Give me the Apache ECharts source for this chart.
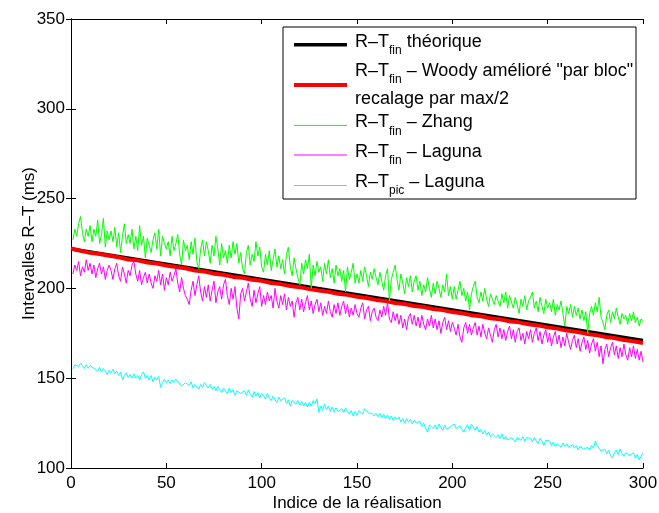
<!DOCTYPE html>
<html><head><meta charset="utf-8">
<script src="https://cdn.jsdelivr.net/npm/echarts@6/dist/echarts.min.js"></script>
<style>html,body{margin:0;padding:0;background:#fff}#c{width:659px;height:513px}</style>
</head><body><div id="c"></div>
<script>
// ---- data ----
const theoX = [1, 300];
const theoY = [221.8, 171];

const woodyX = [0,5,10,15,20,25,30,35,40,45,50,55,60,65,70,75,80,85,90,95,100,105,110,115,120,125,130,135,140,145,150,155,160,165,170,175,180,185,190,195,200,205,210,215,220,225,230,235,240,245,250,255,260,265,270,275,280,285,290,295,300];
const woodyY = [222.3,221.0,219.8,219.2,218.2,217.3,216.1,215.6,214.4,213.9,212.7,211.9,211.2,209.9,209.4,208.2,207.6,206.4,205.9,204.8,204.2,203.0,202.4,201.3,200.7,199.6,198.8,198.1,197.0,196.4,195.3,194.7,193.6,193.0,191.9,191.3,190.2,189.6,188.5,187.9,186.8,186.2,185.1,184.5,183.4,182.8,181.7,181.1,180.0,179.4,178.3,177.6,176.5,175.9,174.8,174.1,173.0,172.4,171.3,170.6,169.6];

const zhangY = [
227,233,229,236,240,231,226,233,229,235,
226,233,229,238,225,230,239,223,232,227,
232,226,234,223,231,220,229,236,225,230,
225,233,222,229,221,235,224,229,217,228,
228,220,227,231,222,233,218,229,225,222,
226,218,229,221,225,230,219,213,227,221,
224,216,226,219,228,215,211,222,227,218,
226,221,214,224,218,229,222,213,225,217,
221,214,224,217,226,219,225,214,220,211,
208,220,224,213,219,215,226,218,223,212,
209,219,213,221,210,216,222,212,218,211,
216,208,219,223,212,207,217,211,206,202,
214,208,216,211,219,200,213,207,215,209,
212,204,214,208,216,206,211,203,213,207,
211,204,210,198,212,205,209,214,203,208,
203,210,204,212,207,201,209,205,211,206,
202,209,204,199,207,211,193,205,209,213,
205,199,208,203,197,206,201,207,198,204,
207,199,204,196,202,198,206,200,195,203,
197,204,200,195,202,198,208,196,201,194,
201,194,199,204,196,200,193,198,188,197,
201,204,195,192,198,193,200,194,190,197,
198,191,196,193,190,197,192,198,189,196,
197,189,195,191,186,194,190,196,188,193,
195,198,189,193,187,195,190,186,194,189,
192,187,194,185,191,188,193,186,179,190,
186,191,184,190,185,189,183,188,182,187,
175,186,190,185,192,187,195,184,181,177,
185,188,181,187,183,189,184,180,186,183,
185,180,186,182,187,181,184,179,183,182];

const lagunaFinY = [
208,213,210,215,207,212,209,216,210,214,
208,213,206,211,214,208,212,205,210,213,
210,205,211,214,207,204,212,208,203,210,
207,213,215,208,204,210,202,206,209,203,
208,203,200,207,204,210,202,208,199,206,
202,209,204,207,211,203,198,206,200,196,
194,191,199,204,196,202,207,198,193,201,
195,202,193,199,204,192,198,201,194,202,
205,196,191,200,194,201,189,183,197,200,
193,198,203,194,190,199,192,197,201,190,
196,191,198,193,196,189,200,193,189,196,
191,197,188,195,190,193,184,192,195,188,
194,187,192,196,188,193,186,191,194,187,
192,185,190,186,193,187,184,191,186,192,
185,190,193,186,191,184,189,185,191,186,
184,189,192,183,188,190,182,187,189,184,
182,188,184,190,185,192,183,181,187,182,
186,180,185,178,183,177,184,186,180,185,
179,184,178,185,180,177,183,179,185,178,
183,177,182,175,181,184,177,182,176,181,
178,174,180,173,170,178,181,175,180,174,
178,181,174,179,173,180,175,172,178,174,
170,177,180,173,178,172,177,171,176,179,
172,177,170,176,178,171,175,169,176,172,
177,170,175,178,171,176,169,174,177,170,
175,168,173,176,169,174,167,173,168,175,
170,166,171,174,167,172,165,170,173,166,
171,164,169,172,165,170,162,168,158,166,
169,162,167,170,163,168,161,167,162,169,
163,160,167,162,168,161,166,160,165,159];

const lagunaPicY = [
155,157.5,158.5,156.5,158.5,157,155.5,157.5,155.5,157,
158,155.5,156.5,154,156,153.5,155.5,154,152,154.5,
153,155,152.5,154,151.5,153.5,149,151.5,153,150.5,
152,150,152.5,150,151.5,149,152,153.5,150,151.5,
149,151.5,148,150.5,149,151,145,147.5,149.5,147.5,
149,147,149,147.5,149.5,148,147,145.5,144.5,147.5,
148.5,146,148,144.5,146.5,147.5,144,146.5,145,147.5,
148,144.5,146.5,144,145.5,143,145.5,143.5,142,144.5,
143.5,141.5,144.5,142,143.5,140.5,143,144,141.5,140.5,
143,140.5,143.5,141,139.5,142.5,140,142,139,141.5,
140,138.5,141.5,139,137.5,140,138,136.5,139.5,137.5,
138,139,136,138,134.5,137.5,138.5,135.5,137.5,135,
137,134.5,136.5,134,136.5,134.5,137.5,136,138.5,131,
134.5,132,135.5,132.5,134.5,131.5,134,131,133.5,131.5,
131,133,131,133.5,131.5,130,132,129,131.5,129.5,
132,131.5,130,133,133.5,130.5,131,130.5,129,130.5,
128.5,130.5,128,130,127.5,129.5,127,129,126.5,128.5,
127,128.5,125.5,127.5,125,127.5,125.5,127,124.5,126.5,
125,124,126,123,125,122,120,124,124.5,122,
124,121.5,124.5,122.5,121,124,121.5,120.5,123,123.5,
124.5,122,121,123.5,121.5,120,122.5,124,121,124.5,
123,121,123,120,121.5,119,121,118.5,120,117.5,
119,118.5,117,118.5,116.5,119,116,117.5,115.5,115,
117,116.5,114.5,117,118,115.5,117.5,115,117,116.5,
116.5,114.5,117,115,113.5,116.5,115,112.5,115.5,115,
115,112.5,114.5,112,113.5,114.5,111.5,114,112,113.5,
111.5,110.5,113,111,112.5,110,112,112.5,110.5,109.5,
111.5,110,112.5,111,115,112.5,111.5,109.5,109,110.5,
108,110,107,105.5,108.5,110,107.5,110.5,108,106.5,
108.5,109.5,107,106,108.5,105.5,107.5,104.5,105.5,108.5];

const xTitle = 'Indice de la réalisation';
const yTitle = 'Intervalles R\u2013T (ms)';
const legendRows = [
  '{m|R\u2013T}{s|fin}{m| théorique}',
  '{m|R\u2013T}{s|fin}{m| \u2013 Woody amélioré "par bloc"}',
  '{m|recalage par max/2}',
  '{m|R\u2013T}{s|fin}{m| \u2013 Zhang}',
  '{m|R\u2013T}{s|fin}{m| \u2013 Laguna}',
  '{m|R\u2013T}{s|pic}{m| \u2013 Laguna}'
];
const colors = ['#000000', '#ff0000', '#00ff00', '#ff00ff', '#00ffff'];

// ---- chart ----
const FONT = '"Liberation Sans", Arial, Helvetica, sans-serif';
const chart = echarts.init(document.getElementById('c'), null, {renderer: 'canvas'});

const idx = arr => arr.map((v, i) => [i + 1, v]);
const baseAxis = {
  axisLine: {show: true, lineStyle: {color: '#000', width: 1}},
  axisTick: {show: true, inside: true, length: 5, lineStyle: {color: '#000'}},
  splitLine: {show: false}
};

const legendLineY = [44.7, 85, 125.4, 155, 185.5];
const legendTextY = [42, 70.7, 98.8, 122.4, 152.1, 181.8];
const lineWidths = [3.5, 4, 1, 1, 1];

const graphics = [
  {type: 'rect', shape: {x: 283, y: 27, width: 353, height: 172},
   style: {fill: '#fff', stroke: '#000', lineWidth: 1}, z: 100}
];
legendLineY.forEach((y, i) => graphics.push({
  type: 'line', shape: {x1: 294, y1: y, x2: 347, y2: y},
  style: {stroke: colors[i], lineWidth: lineWidths[i]}, z: 101
}));
legendRows.forEach((t, i) => graphics.push({
  type: 'text', x: 355, y: legendTextY[i], z: 101,
  style: {
    text: t, verticalAlign: 'middle', align: 'left',
    rich: {
      m: {fontSize: 18, fontFamily: FONT, fill: '#000'},
      s: {fontSize: 12, fontFamily: FONT, fill: '#000', padding: [18, 0, 0, 0]}
    }
  }
}));

chart.setOption({
  animation: false,
  backgroundColor: '#fff',
  textStyle: {fontFamily: FONT},
  grid: {left: 71, right: 16, top: 19, bottom: 45, containLabel: false, outerBoundsMode: 'none'},
  xAxis: [
    Object.assign({}, baseAxis, {
      type: 'value', min: 0, max: 300, interval: 50, position: 'bottom',
      axisLabel: {fontSize: 17, color: '#000', margin: 7, fontFamily: FONT, showMinLabel: true, showMaxLabel: true},
      name: xTitle, nameLocation: 'middle', nameGap: 27, nameMoveOverlap: false,
      nameTextStyle: {fontSize: 17, color: '#000', fontFamily: FONT}
    }),
    Object.assign({}, baseAxis, {
      type: 'value', min: 0, max: 300, interval: 50, position: 'top',
      axisLabel: {show: false}
    })
  ],
  yAxis: [
    Object.assign({}, baseAxis, {
      type: 'value', min: 100, max: 350, interval: 50, position: 'left',
      axisLabel: {fontSize: 17, color: '#000', margin: 6, fontFamily: FONT, showMinLabel: true, showMaxLabel: true},
      name: yTitle, nameLocation: 'middle', nameGap: 33, nameRotate: 90, nameMoveOverlap: false,
      nameTextStyle: {fontSize: 17, color: '#000', fontFamily: FONT}
    }),
    Object.assign({}, baseAxis, {
      type: 'value', min: 100, max: 350, interval: 50, position: 'right',
      axisLabel: {show: false}
    })
  ],
  series: [
    {type: 'line', name: 'théorique', data: theoX.map((x, i) => [x, theoY[i]]),
     showSymbol: false, lineStyle: {color: colors[0], width: 3.5}, z: 2},
    {type: 'line', name: 'Woody', data: woodyX.map((x, i) => [x, woodyY[i]]),
     showSymbol: false, lineStyle: {color: colors[1], width: 4}, z: 3},
    {type: 'line', name: 'Zhang', data: idx(zhangY),
     showSymbol: false, lineStyle: {color: colors[2], width: 1}, z: 4},
    {type: 'line', name: 'Laguna fin', data: idx(lagunaFinY),
     showSymbol: false, lineStyle: {color: colors[3], width: 1}, z: 5},
    {type: 'line', name: 'Laguna pic', data: idx(lagunaPicY),
     showSymbol: false, lineStyle: {color: colors[4], width: 1}, z: 6}
  ],
  graphic: graphics
});
</script>
</body></html>
